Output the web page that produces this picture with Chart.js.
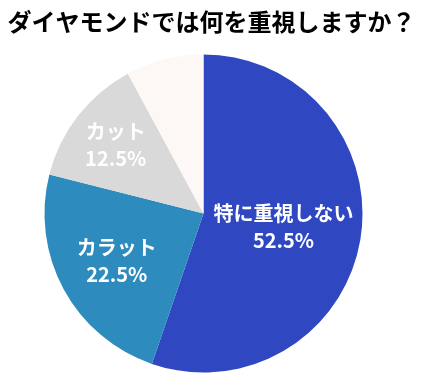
<!DOCTYPE html>
<html>
<head>
<meta charset="utf-8">
<script src="https://cdn.jsdelivr.net/npm/chart.js@4.4.1/dist/chart.umd.min.js"></script>
<style>
  html, body { margin: 0; padding: 0; background: #ffffff; }
  #wrap { width: 426px; height: 375px; position: relative; }
</style>
</head>
<body>
<div id="wrap"><canvas id="c" width="426" height="375"></canvas></div>
<script>
const titleText = 'ダイヤモンドでは何を重視しますか？';
const categories = ['特に重視しない', 'カラット', 'カット', 'その他'];
const values = [52.5, 22.5, 12.5, 7.5];
const showLabel = [true, true, true, false];
const colors = ['#2F47C1', '#2E8BBE', '#D9D9D9', '#FDF8F6'];
const labelRadiusFrac = [0.51, 0.62, 0.70, 0.6];

const FONT = '"Noto Sans CJK JP", "Noto Sans", sans-serif';

const titlePlugin = {
  id: 'customTitle',
  afterDraw(chart) {
    const ctx = chart.ctx;
    ctx.save();
    ctx.font = 'bold 24px ' + FONT;
    ctx.fillStyle = '#000000';
    ctx.textAlign = 'center';
    ctx.textBaseline = 'middle';
    ctx.fillText(titleText, 211.5, 22);
    ctx.restore();
  }
};

const sliceLabelPlugin = {
  id: 'sliceLabels',
  afterDatasetsDraw(chart) {
    const ctx = chart.ctx;
    const meta = chart.getDatasetMeta(0);
    ctx.save();
    ctx.font = 'bold 20px ' + FONT;
    ctx.fillStyle = '#ffffff';
    ctx.textAlign = 'center';
    ctx.textBaseline = 'middle';
    meta.data.forEach((arc, i) => {
      if (!showLabel[i]) return;
      const p = arc.getProps(['x', 'y', 'startAngle', 'endAngle', 'outerRadius'], true);
      const mid = (p.startAngle + p.endAngle) / 2;
      const r = p.outerRadius * labelRadiusFrac[i];
      const cx = p.x + Math.cos(mid) * r;
      const cy = p.y + Math.sin(mid) * r;
      ctx.fillText(categories[i], cx, cy - 13.5);
      ctx.fillText(values[i].toFixed(1) + '%', cx, cy + 13.5);
    });
    ctx.restore();
  }
};

new Chart(document.getElementById('c'), {
  type: 'pie',
  data: {
    labels: categories,
    datasets: [{
      data: values,
      backgroundColor: colors,
      borderWidth: 0,
      hoverOffset: 0
    }]
  },
  options: {
    responsive: false,
    animation: false,
    layout: { padding: { top: 54.5, bottom: 2.5, left: 0, right: 19 } },
    plugins: {
      legend: { display: false },
      tooltip: { enabled: false },
      title: { display: false }
    }
  },
  plugins: [titlePlugin, sliceLabelPlugin]
});
</script>
</body>
</html>
